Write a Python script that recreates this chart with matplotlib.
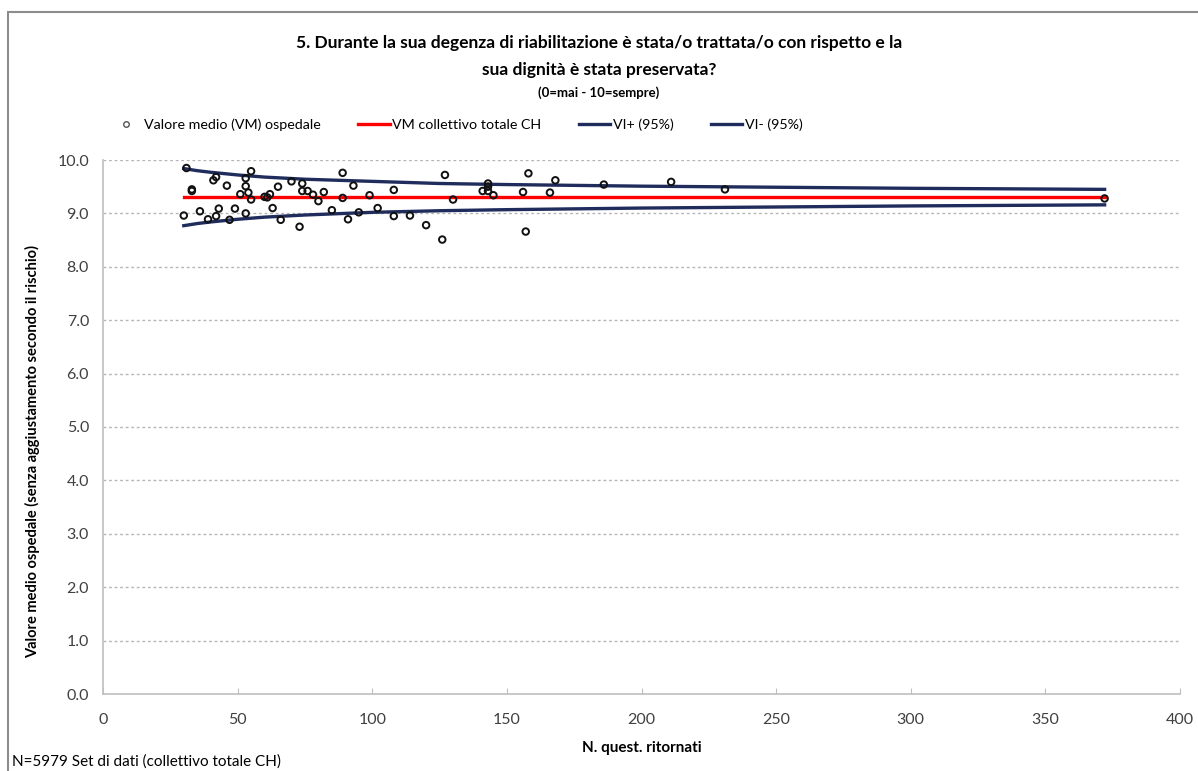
import matplotlib
matplotlib.use("Agg")
import matplotlib.pyplot as plt
from matplotlib.lines import Line2D
from matplotlib.patches import Rectangle

plt.rcParams["font.family"] = ["Lato", "DejaVu Sans"]

# Hospital means: number of returned questionnaires vs mean score
n_returned = [31, 33, 33, 41, 42, 46, 55, 53, 53, 54, 51, 55, 60, 61, 62, 65,
              70, 74, 74, 76, 78, 82, 80, 30, 36, 39, 42, 43, 47, 49, 53, 63,
              66, 73, 85, 89, 93, 89, 99, 108, 127, 130, 143, 143, 141, 143,
              145, 156, 158, 157, 91, 95, 102, 108, 114, 120, 126, 168, 166,
              186, 211, 231, 372]
hospital_mean = [9.85, 9.45, 9.42, 9.62, 9.68, 9.52, 9.79, 9.66, 9.51, 9.39,
                 9.36, 9.26, 9.31, 9.30, 9.36, 9.50, 9.60, 9.56, 9.42, 9.42,
                 9.35, 9.40, 9.23, 8.96, 9.04, 8.89, 8.95, 9.09, 8.88, 9.09,
                 9.00, 9.10, 8.88, 8.75, 9.06, 9.76, 9.52, 9.29, 9.34, 9.44,
                 9.72, 9.26, 9.56, 9.50, 9.42, 9.42, 9.34, 9.40, 9.75, 8.66,
                 8.89, 9.02, 9.10, 8.95, 8.96, 8.78, 8.51, 9.62, 9.39, 9.54,
                 9.59, 9.45, 9.28]

# Overall mean (CH) and 95% interval limits along n
ci_n = [30, 35, 40, 50, 60, 75, 100, 125, 150, 200, 250, 300, 372]
vm_total = [9.30] * len(ci_n)
ci_upper = [9.84, 9.80, 9.77, 9.72, 9.68, 9.64, 9.60, 9.56, 9.54, 9.51, 9.49, 9.47, 9.45]
ci_lower = [8.77, 8.81, 8.84, 8.89, 8.93, 8.97, 9.02, 9.05, 9.07, 9.10, 9.12, 9.14, 9.16]

x_ticks = [0, 50, 100, 150, 200, 250, 300, 350, 400]
y_ticks = [0, 1, 2, 3, 4, 5, 6, 7, 8, 9, 10]

NAVY = "#1f2c5c"
RED = "#ff0000"

fig = plt.figure(figsize=(11.98, 7.71), dpi=100)
fig.patches.append(Rectangle((8 / 1198, -0.01), 1.2, 1 - 12 / 771 + 0.01,
                             transform=fig.transFigure, fill=False,
                             edgecolor="#8c8c8c", lw=1.5))

ax = fig.add_axes([103 / 1198, 1 - 694 / 771, 1077 / 1198, 534 / 771])

ax.plot(ci_n, vm_total, color=RED, lw=2.4, zorder=3)
ax.plot(ci_n, ci_upper, color=NAVY, lw=2.4, zorder=3)
ax.plot(ci_n, ci_lower, color=NAVY, lw=2.4, zorder=3)
ax.scatter(n_returned, hospital_mean, s=22, facecolors="none",
           edgecolors="#111111", linewidths=1.4, zorder=4)

ax.set_xlim(0, 400)
ax.set_ylim(0, 10)
ax.set_xticks(x_ticks)
ax.set_yticks(y_ticks)
ax.set_yticklabels([f"{v:.1f}" for v in y_ticks])
for y in y_ticks[1:]:
    ax.axhline(y, color="#b5b5b5", lw=1, ls=(0, (2, 2)), zorder=1)

for side in ("top", "right"):
    ax.spines[side].set_visible(False)
for side in ("left", "bottom"):
    ax.spines[side].set_color("#bfbfbf")
    ax.spines[side].set_linewidth(1.2)
ax.tick_params(axis="x", direction="in", length=4, color="#bfbfbf",
               labelsize=11.5, labelcolor="#404040", pad=14)
ax.tick_params(axis="y", length=0, labelsize=11.5, labelcolor="#404040", pad=10)

ax.set_xlabel("N. quest. ritornati", fontsize=11, fontweight="bold", labelpad=10)
ax.set_ylabel("Valore medio ospedale (senza aggiustamento secondo il rischio)",
              fontsize=10.5, fontweight="bold")
ax.yaxis.set_label_coords(-0.058, 0.455)

fig.text(0.5, 1 - 43 / 771,
         "5. Durante la sua degenza di riabilitazione è stata/o trattata/o con rispetto e la",
         ha="center", va="center", fontsize=12.5, fontweight="bold")
fig.text(0.5, 1 - 70 / 771, "sua dignità è stata preservata?",
         ha="center", va="center", fontsize=12.5, fontweight="bold")
fig.text(0.5, 1 - 93 / 771, "(0=mai - 10=sempre)",
         ha="center", va="center", fontsize=9.5, fontweight="bold")

handles = [
    Line2D([], [], ls="none", marker="o", markersize=4, markerfacecolor="none",
           markeredgecolor="#555555", markeredgewidth=1),
    Line2D([], [], color=RED, lw=2.4),
    Line2D([], [], color=NAVY, lw=2.4),
    Line2D([], [], color=NAVY, lw=2.4),
]
labels = ["Valore medio (VM) ospedale", "VM collettivo totale CH",
          "VI+ (95%)", "VI- (95%)"]
fig.legend(handles, labels, loc="center", bbox_to_anchor=(0.381, 1 - 125 / 771),
           ncol=4, frameon=False, fontsize=10.3, handlelength=2.2,
           handletextpad=0.2, columnspacing=2.6)

fig.text(12 / 1198, 1 - 762 / 771, "N=5979 Set di dati (collettivo totale CH)",
         ha="left", va="center", fontsize=11)

fig.savefig("out.png", dpi=100)
